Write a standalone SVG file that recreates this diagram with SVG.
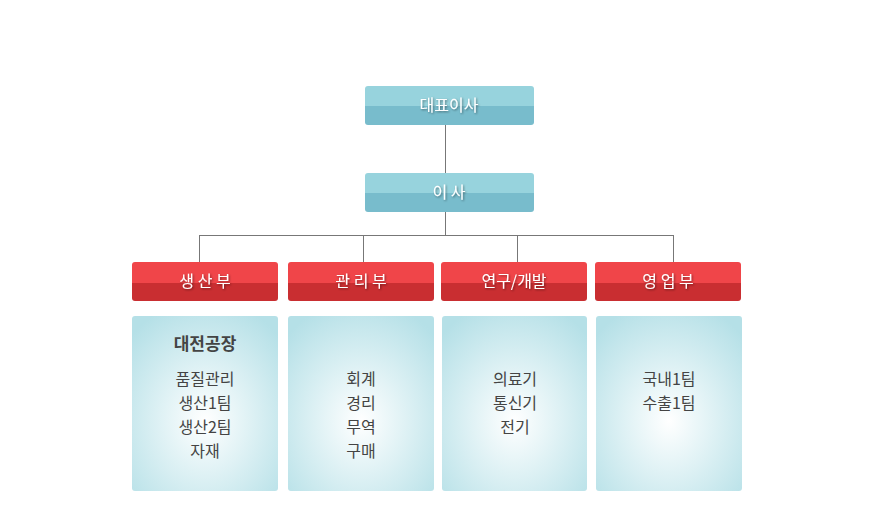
<svg xmlns="http://www.w3.org/2000/svg" width="870" height="532" viewBox="0 0 870 532">
<defs>
<radialGradient id="lb" cx="0.5" cy="0.6" r="0.7">
<stop offset="0" stop-color="#ffffff"/><stop offset="1" stop-color="#b5e0e7"/>
</radialGradient>
<filter id="sh" x="-10%" y="-30%" width="120%" height="160%"><feDropShadow dx="1" dy="1" stdDeviation="0.8" flood-color="#000" flood-opacity="0.45"/></filter>
</defs>
<style>
.bt{fill:#97d3dd}.bb{fill:#78bccc}.rt{fill:#f04549}.rb{fill:#c92e31}
.hd{font-family:"Noto Sans CJK KR","Noto Sans",sans-serif;font-size:16px;fill:#fff;text-anchor:middle;filter:url(#sh)}
.tx{font-family:"Noto Sans CJK KR","Noto Sans",sans-serif;font-size:16px;fill:#444;text-anchor:middle}
.ln{stroke:#777;stroke-width:1;fill:none}
</style>
<rect width="870" height="532" fill="#fff"/>
<g id="connectors">
<path class="ln" d="M445.5 125V173M445.5 212V235M199.5 235.5H673.5M199.5 235V262M363.5 235V262M517.5 235V262M673.5 235V262"/>
</g>
<g id="ceo"><clipPath id="c1"><rect x="365" y="86" width="169" height="39" rx="3"/></clipPath><g clip-path="url(#c1)"><rect class="bt" x="365" y="86" width="169" height="20"/><rect class="bb" x="365" y="106" width="169" height="19"/></g><text class="hd" x="449" y="111">대표이사</text></g>
<g id="director"><clipPath id="c2"><rect x="365" y="173" width="169" height="39" rx="3"/></clipPath><g clip-path="url(#c2)"><rect class="bt" x="365" y="173" width="169" height="20"/><rect class="bb" x="365" y="193" width="169" height="19"/></g><text class="hd" x="449" y="198">이 사</text></g>
<g id="prod"><clipPath id="c3"><rect x="132" y="262" width="146" height="39" rx="3"/></clipPath><g clip-path="url(#c3)"><rect class="rt" x="132" y="262" width="146" height="21"/><rect class="rb" x="132" y="283" width="146" height="18"/></g><text class="hd" x="205" y="287">생 산 부</text>
<rect x="132" y="316" width="146" height="175" rx="3" fill="url(#lb)"/>
<text class="tx" x="205" y="350" style="font-weight:bold;font-size:17px">대전공장</text>
<text class="tx" x="205" y="385">품질관리</text><text class="tx" x="205" y="409">생산1팀</text><text class="tx" x="205" y="433">생산2팀</text><text class="tx" x="205" y="457">자재</text></g>
<g id="admin"><clipPath id="c4"><rect x="288" y="262" width="146" height="39" rx="3"/></clipPath><g clip-path="url(#c4)"><rect class="rt" x="288" y="262" width="146" height="21"/><rect class="rb" x="288" y="283" width="146" height="18"/></g><text class="hd" x="361" y="287">관 리 부</text>
<rect x="288" y="316" width="146" height="175" rx="3" fill="url(#lb)"/>
<text class="tx" x="361" y="385">회계</text><text class="tx" x="361" y="409">경리</text><text class="tx" x="361" y="433">무역</text><text class="tx" x="361" y="457">구매</text></g>
<g id="rnd"><clipPath id="c5"><rect x="441" y="262" width="146" height="39" rx="3"/></clipPath><g clip-path="url(#c5)"><rect class="rt" x="441" y="262" width="146" height="21"/><rect class="rb" x="441" y="283" width="146" height="18"/></g><text class="hd" x="514" y="287">연구/개발</text>
<rect x="442" y="316" width="145" height="175" rx="3" fill="url(#lb)"/>
<text class="tx" x="515" y="385">의료기</text><text class="tx" x="515" y="409">통신기</text><text class="tx" x="515" y="433">전기</text></g>
<g id="sales"><clipPath id="c6"><rect x="595" y="262" width="146" height="39" rx="3"/></clipPath><g clip-path="url(#c6)"><rect class="rt" x="595" y="262" width="146" height="21"/><rect class="rb" x="595" y="283" width="146" height="18"/></g><text class="hd" x="668" y="287">영 업 부</text>
<rect x="596" y="316" width="146" height="175" rx="3" fill="url(#lb)"/>
<text class="tx" x="669" y="385">국내1팀</text><text class="tx" x="669" y="409">수출1팀</text></g>
</svg>
